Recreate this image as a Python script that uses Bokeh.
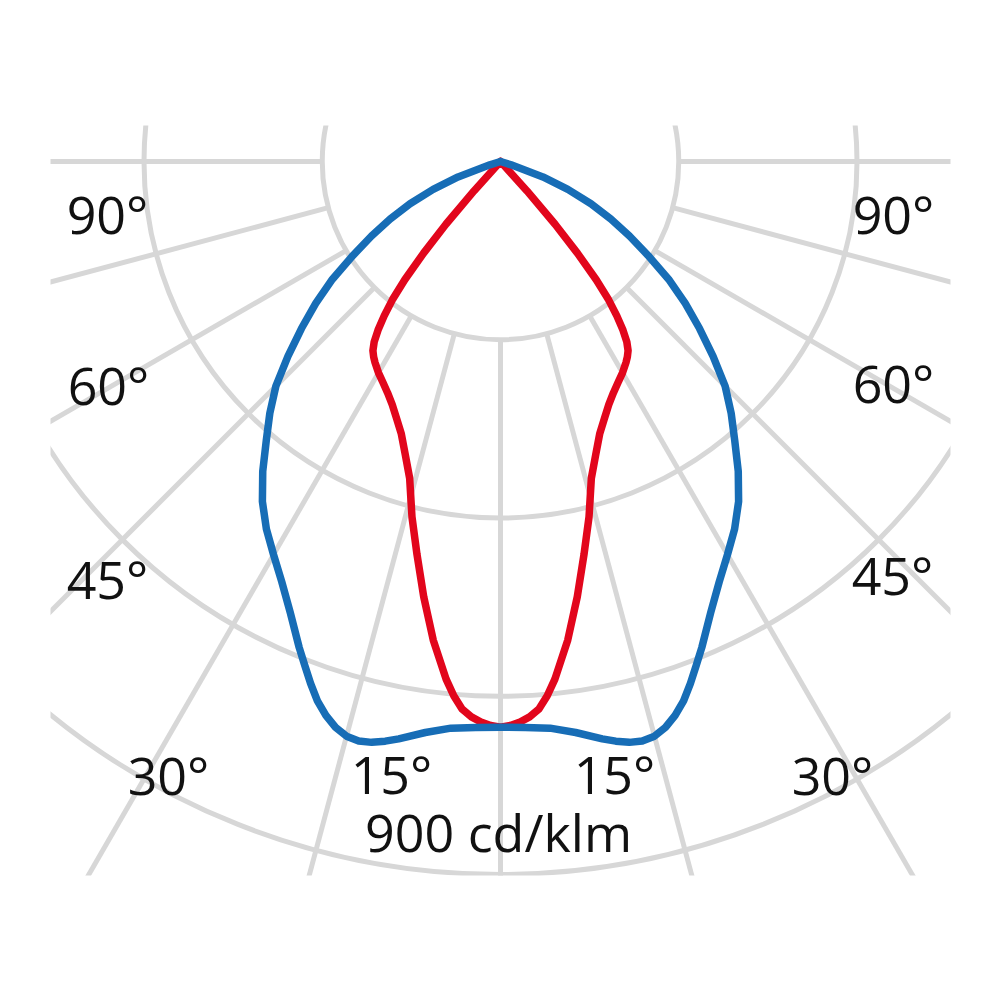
import numpy as np
from bokeh.plotting import figure
from bokeh.models import Range1d, ColumnDataSource
from bokeh.core.properties import value
from bokeh.embed import file_html
from bokeh.resources import INLINE

# ---------------- data (cd/klm, gamma angle in degrees from nadir) ----------------
ring_values = [225, 450, 675, 900]
spoke_angles = [-90, -75, -60, -45, -30, -15, 0, 15, 30, 45, 60, 75, 90]

blue_angles = [0, 2.5, 5, 7.5, 10, 11.25, 12.5, 13.75, 15, 16.25, 17.5, 18.75, 20, 21.25,
               22.5, 25, 27.5, 30, 32.5, 35, 37.5, 40, 42.5, 45, 47.5, 50, 52.5, 55, 57.5,
               60, 62.5, 65, 67.5, 70, 72.5, 75, 90]
blue_values = [714, 715, 718, 727, 740, 746, 751, 753, 751, 744, 733, 719, 701, 682,
               664, 628, 598, 573, 550, 524, 493, 460, 431, 401, 364, 328, 294, 259, 221,
               188, 157, 126, 92, 57, 14, 0, 0]

red_angles = [0, 1, 2, 3, 4, 5, 6, 8, 10, 12, 14, 16, 18, 20, 22, 24, 26, 28, 30, 32, 33, 34,
              35, 36, 37, 38, 39, 40, 41, 42, 43, 90]
red_values = [714, 712, 708, 702, 693, 677, 657, 610, 558, 507, 462, 416, 389, 366, 350, 336,
              325, 316, 308, 299, 294, 288, 278, 263, 244, 222, 192, 151, 105, 50, 0, 0]

labels = ["90°", "90°", "60°", "60°", "45°", "45°", "30°", "30°", "15°", "15°", "900 cd/klm"]

# ---------------- layout (page pixels of label anchors: centre x, glyph bottom y) ----------------
label_px = [(107, 235), (893, 235), (108, 406), (893, 404), (107, 600), (892, 596),
            (168, 796), (832, 796), (391, 795), (614, 795), (498, 853)]
TEXT_SHIFT = 22  # renderer places glyph bottoms this many px below the anchor

SCALE = 713.0 / 900.0       # px per cd/klm
CX, CY = 500.0, 161.0       # pole position on page
FRAME = (50, 125, 950, 875)  # visible grid window on page
W = H = 984

def to_data(X, Y):
    return (X - CX) / SCALE, (CY - Y) / SCALE

x0, y_top = to_data(FRAME[0], FRAME[1])
x1, y_bot = to_data(FRAME[2], FRAME[3])

p = figure(width=W, height=H, x_range=Range1d(x0, x1), y_range=Range1d(y_bot, y_top),
           output_backend="svg", toolbar_location=None, title=None,
           x_axis_location=None, y_axis_location=None,
           min_border_left=FRAME[0], min_border_right=W - FRAME[2],
           min_border_top=FRAME[1], min_border_bottom=H - FRAME[3],
           outline_line_color=None, background_fill_color="white", border_fill_color="white")
p.grid.visible = False

GRID = "#d7d7d7"
GW = 5

# rings
p.circle(x=[0] * len(ring_values), y=[0] * len(ring_values), radius=ring_values,
         fill_color=None, line_color=GRID, line_width=GW)

# spokes from the inner ring outward
th = np.radians(spoke_angles)
r0 = ring_values[0]
R = 3000
p.segment(x0=r0 * np.sin(th), y0=-r0 * np.cos(th), x1=R * np.sin(th), y1=-R * np.cos(th),
          line_color=GRID, line_width=GW)

def polar_curve(angles, values):
    a = np.array(angles, dtype=float)
    v = np.array(values, dtype=float)
    a_full = np.concatenate([-a[::-1], a[1:]])
    v_full = np.concatenate([v[::-1], v[1:]])
    t = np.radians(a_full)
    return v_full * np.sin(t), -v_full * np.cos(t)

rx, ry = polar_curve(red_angles, red_values)
bx, by = polar_curve(blue_angles, blue_values)
p.line(rx, ry, line_color="#e2061c", line_width=7.5, line_join="round", line_cap="round")
p.line(bx, by, line_color="#176db6", line_width=7.5, line_join="round", line_cap="round")

lx, ly = zip(*[to_data(X, Y - TEXT_SHIFT) for X, Y in label_px])
src = ColumnDataSource(dict(x=list(lx), y=list(ly), text=labels))
p.text(x="x", y="y", text="text", source=src, text_font=value("Open Sans"),
       text_font_size="52px", text_color="#111111", text_align="center",
       text_baseline="alphabetic")

open("out.html", "w").write(file_html(p, INLINE))
